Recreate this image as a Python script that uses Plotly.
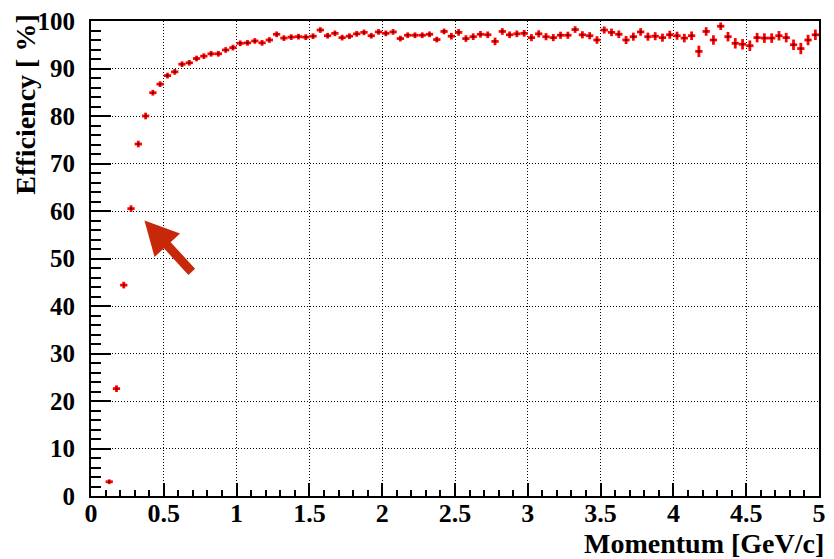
import plotly.graph_objects as go

# Track-finding efficiency versus momentum, 0.05 GeV/c bins
momentum = [
    0.125, 0.175, 0.225, 0.275, 0.325, 0.375, 0.425, 0.475, 0.525, 0.575,
    0.625, 0.675, 0.725, 0.775, 0.825, 0.875, 0.925, 0.975, 1.025, 1.075,
    1.125, 1.175, 1.225, 1.275, 1.325, 1.375, 1.425, 1.475, 1.525, 1.575,
    1.625, 1.675, 1.725, 1.775, 1.825, 1.875, 1.925, 1.975, 2.025, 2.075,
    2.125, 2.175, 2.225, 2.275, 2.325, 2.375, 2.425, 2.475, 2.525, 2.575,
    2.625, 2.675, 2.725, 2.775, 2.825, 2.875, 2.925, 2.975, 3.025, 3.075,
    3.125, 3.175, 3.225, 3.275, 3.325, 3.375, 3.425, 3.475, 3.525, 3.575,
    3.625, 3.675, 3.725, 3.775, 3.825, 3.875, 3.925, 3.975, 4.025, 4.075,
    4.125, 4.175, 4.225, 4.275, 4.325, 4.375, 4.425, 4.475, 4.525, 4.575,
    4.625, 4.675, 4.725, 4.775, 4.825, 4.875, 4.925, 4.975,
]

efficiency = [
    3.0, 22.6, 44.4, 60.5, 74.1, 80.0, 84.9, 86.7, 88.5, 89.3,
    90.9, 91.2, 92.1, 92.6, 93.1, 93.1, 93.9, 94.4, 95.3, 95.4,
    95.8, 95.4, 96.0, 97.2, 96.4, 96.6, 96.7, 96.6, 96.8, 98.1,
    96.9, 97.4, 96.5, 96.8, 97.3, 97.6, 96.9, 97.7, 97.4, 97.7,
    96.3, 97.0, 97.0, 97.0, 97.2, 96.1, 97.8, 96.8, 97.6, 96.3,
    96.7, 97.2, 97.1, 95.7, 97.8, 97.1, 97.3, 97.4, 96.5, 97.3,
    96.7, 96.5, 97.0, 97.0, 98.2, 97.1, 96.9, 96.0, 98.1, 97.6,
    97.2, 96.0, 96.7, 97.7, 96.7, 96.8, 96.5, 97.1, 96.9, 96.4,
    96.9, 93.6, 97.8, 96.0, 98.9, 96.7, 95.3, 95.1, 94.8, 96.5,
    96.4, 96.4, 96.9, 96.5, 95.0, 94.2, 96.0, 97.1,
]

efficiency_err = [
    0.5, 0.7, 0.7, 0.7, 0.7, 0.7, 0.6, 0.6, 0.6, 0.6,
    0.6, 0.6, 0.6, 0.6, 0.6, 0.6, 0.6, 0.6, 0.6, 0.6,
    0.6, 0.6, 0.6, 0.6, 0.6, 0.6, 0.6, 0.6, 0.6, 0.6,
    0.6, 0.6, 0.6, 0.6, 0.6, 0.6, 0.6, 0.6, 0.6, 0.6,
    0.6, 0.6, 0.6, 0.6, 0.6, 0.6, 0.6, 0.7, 0.7, 0.7,
    0.7, 0.7, 0.7, 0.8, 0.7, 0.7, 0.7, 0.7, 0.75, 0.75,
    0.75, 0.75, 0.75, 0.75, 0.7, 0.75, 0.75, 0.8, 0.75, 0.8,
    0.8, 0.85, 0.85, 0.8, 0.85, 0.85, 0.85, 0.85, 0.85, 0.9,
    0.9, 1.2, 0.9, 1.0, 0.8, 1.0, 1.1, 1.1, 1.1, 1.0,
    1.0, 1.0, 1.0, 1.0, 1.1, 1.2, 1.1, 1.1,
]

bin_half_width = 0.025

x_ticks = [0, 0.5, 1, 1.5, 2, 2.5, 3, 3.5, 4, 4.5, 5]
x_tick_text = ["0", "0.5", "1", "1.5", "2", "2.5", "3", "3.5", "4", "4.5", "5"]
y_ticks = [0, 10, 20, 30, 40, 50, 60, 70, 80, 90, 100]
y_tick_text = ["0", "10", "20", "30", "40", "50", "60", "70", "80", "90", "100"]

# Arrow pointing at the turn-on region (data coordinates)
arrow_tip = (0.367, 58.0)
arrow_tail = (0.692, 47.2)

W, H = 834, 559
M_L, M_R, M_T, M_B = 91, 8, 17, 63
X_RANGE = (0, 5)
Y_RANGE = (0, 100)
plot_w = W - M_L - M_R
plot_h = H - M_T - M_B
px_per_x = plot_w / (X_RANGE[1] - X_RANGE[0])
px_per_y = plot_h / (Y_RANGE[1] - Y_RANGE[0])

SERIF = "Liberation Serif"
RED = "#ff0000"

fig = go.Figure()
fig.add_trace(go.Scatter(
    x=momentum,
    y=efficiency,
    mode="markers",
    marker=dict(color="#3a0000", size=2, symbol="square"),
    error_x=dict(type="constant", value=bin_half_width, color=RED, thickness=2.8, width=0),
    error_y=dict(type="data", array=efficiency_err, color=RED, thickness=2.8, width=0),
    showlegend=False,
    hoverinfo="x+y",
))


def arrow_path(tip, tail, head_len=34, head_half=17.5, shaft_half=4.6):
    # build the arrow outline in pixel space, then map back to data units
    tx, ty = tip[0] * px_per_x, -tip[1] * px_per_y
    sx, sy = tail[0] * px_per_x, -tail[1] * px_per_y
    dx, dy = tx - sx, ty - sy
    length = (dx * dx + dy * dy) ** 0.5
    ux, uy = dx / length, dy / length
    nx, ny = -uy, ux
    bx, by = tx - ux * head_len, ty - uy * head_len
    pts = [
        (tx, ty),
        (bx + nx * head_half, by + ny * head_half),
        (bx + nx * shaft_half, by + ny * shaft_half),
        (sx + nx * shaft_half, sy + ny * shaft_half),
        (sx - nx * shaft_half, sy - ny * shaft_half),
        (bx - nx * shaft_half, by - ny * shaft_half),
        (bx - nx * head_half, by - ny * head_half),
    ]
    d = []
    for i, (px, py) in enumerate(pts):
        d.append(("M" if i == 0 else "L") + f"{px / px_per_x:.5f},{-py / px_per_y:.5f}")
    return " ".join(d) + " Z"


fig.add_shape(
    type="path",
    path=arrow_path(arrow_tip, arrow_tail),
    xref="x", yref="y",
    fillcolor="#c8280a",
    line=dict(width=0),
    layer="above",
)

grid_dash = "1px,2px"

fig.update_xaxes(
    range=list(X_RANGE),
    tickvals=x_ticks,
    ticktext=x_tick_text,
    ticks="inside",
    ticklen=13,
    tickwidth=1.5,
    tickcolor="black",
    tickfont=dict(family=SERIF, size=26, color="black", weight="bold"),
    showline=True, linewidth=2, linecolor="black", mirror=True,
    showgrid=True, gridcolor="black", gridwidth=1, griddash=grid_dash,
    minor=dict(dtick=0.1, ticks="inside", ticklen=6, tickwidth=1.5, tickcolor="black", showgrid=False),
    zeroline=False,
    ticklabelstandoff=-7,
)
fig.update_yaxes(
    range=list(Y_RANGE),
    tickvals=y_ticks,
    ticktext=y_tick_text,
    ticks="inside",
    ticklen=20,
    tickwidth=1.5,
    tickcolor="black",
    tickfont=dict(family=SERIF, size=25, color="black", weight="bold"),
    showline=True, linewidth=2, linecolor="black", mirror=True,
    showgrid=True, gridcolor="black", gridwidth=1, griddash=grid_dash,
    minor=dict(dtick=2, ticks="inside", ticklen=10, tickwidth=1.5, tickcolor="black", showgrid=False),
    zeroline=False,
    ticklabelstandoff=9,
)

fig.add_annotation(
    text="Momentum [GeV/c]",
    xref="paper", yref="paper",
    x=1, y=0, xanchor="right", yanchor="top",
    xshift=6, yshift=-31,
    borderpad=0,
    showarrow=False,
    font=dict(family=SERIF, size=28, color="black", weight="bold"),
)
fig.add_annotation(
    text="Efficiency [ %]",
    xref="paper", yref="paper",
    x=(24 - M_L) / plot_w, y=1, xanchor="center", yanchor="top",
    yshift=8,
    textangle=-90,
    showarrow=False,
    font=dict(family=SERIF, size=28, color="black", weight="bold"),
)

fig.update_layout(
    width=W, height=H,
    margin=dict(l=M_L, r=M_R, t=M_T, b=M_B, pad=0),
    paper_bgcolor="white",
    plot_bgcolor="white",
)

fig.write_html("out.html")
